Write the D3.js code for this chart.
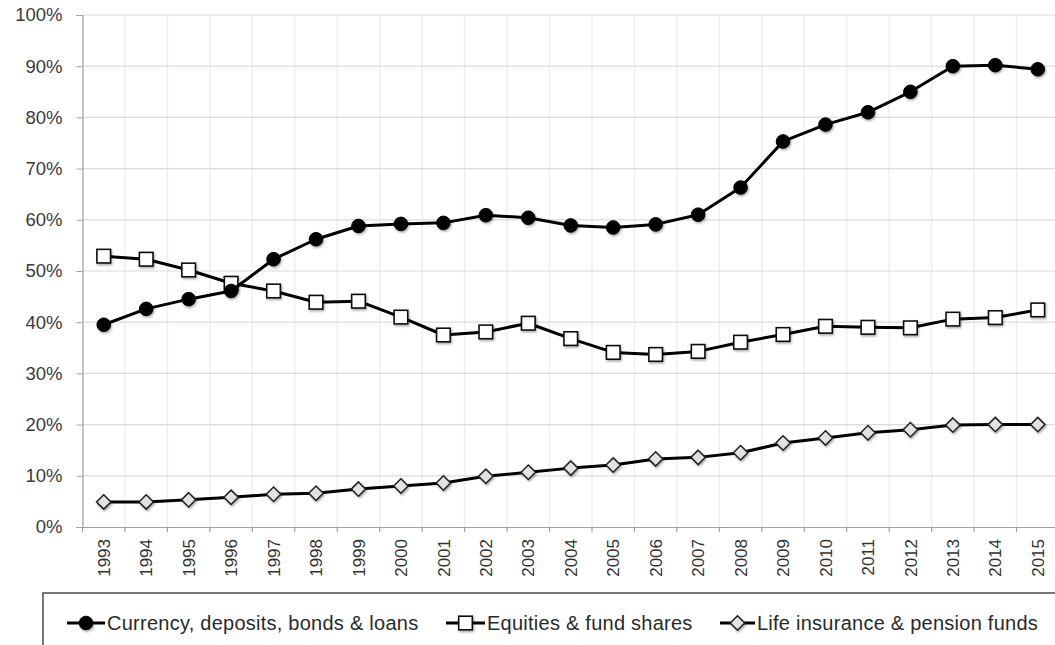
<!DOCTYPE html>
<html>
<head>
<meta charset="utf-8">
<script src="https://cdn.jsdelivr.net/npm/d3@7"></script>
<style>
  html, body { margin: 0; padding: 0; background: #fff; }
  svg { display: block; font-family: "Liberation Sans", Arial, Helvetica, sans-serif; }
</style>
</head>
<body>
<svg id="chart" width="1055" height="645"></svg>
<script>
const years = ["1993","1994","1995","1996","1997","1998","1999","2000","2001","2002","2003","2004","2005","2006","2007","2008","2009","2010","2011","2012","2013","2014","2015"];
const currency = [39.5, 42.6, 44.5, 46.1, 52.3, 56.2, 58.8, 59.2, 59.4, 60.9, 60.4, 58.9, 58.5, 59.1, 61.0, 66.3, 75.3, 78.6, 81.0, 85.0, 90.0, 90.2, 89.4];
const equities = [52.9, 52.3, 50.2, 47.6, 46.1, 43.9, 44.1, 41.0, 37.5, 38.1, 39.8, 36.8, 34.1, 33.7, 34.3, 36.1, 37.6, 39.2, 39.0, 38.9, 40.6, 40.9, 42.4];
const life = [4.9, 4.9, 5.3, 5.8, 6.4, 6.6, 7.4, 8.0, 8.6, 9.9, 10.7, 11.5, 12.1, 13.3, 13.6, 14.5, 16.4, 17.4, 18.4, 19.0, 19.9, 20.0, 20.0];
const yTicks = [0, 10, 20, 30, 40, 50, 60, 70, 80, 90, 100];
const seriesNames = ["Currency, deposits, bonds & loans", "Equities & fund shares", "Life insurance & pension funds"];

(function () {
const svg = d3.select("#chart");
const pl = 82.5, pr = 1059, pt = 15, pb = 527;

const x = d3.scaleBand().domain(years).range([pl, pr]).padding(0);
const y = d3.scaleLinear().domain([0, 100]).range([pb, pt]);
const cx = d => x(d) + x.bandwidth() / 2;

const defs = svg.append("defs");
const f = defs.append("filter").attr("id", "sh").attr("x", "-50%").attr("y", "-50%").attr("width", "200%").attr("height", "200%");
f.append("feDropShadow").attr("dx", 1).attr("dy", 1.5).attr("stdDeviation", 1.2).attr("flood-color", "#000").attr("flood-opacity", 0.35);

// vertical gridlines at category boundaries
svg.append("g").selectAll("line").data(years.slice(1)).join("line")
  .attr("x1", d => x(d)).attr("x2", d => x(d))
  .attr("y1", pt).attr("y2", pb)
  .attr("stroke", "#eeeeee").attr("stroke-width", 1.5);

// horizontal gridlines
svg.append("g").selectAll("line").data(yTicks.slice(1)).join("line")
  .attr("x1", pl).attr("x2", pr)
  .attr("y1", d => y(d)).attr("y2", d => y(d))
  .attr("stroke", "#dcdcdc").attr("stroke-width", 1.2);

// y axis
const yAxis = d3.axisLeft(y).tickValues(yTicks).tickFormat(d => d + "%").tickSize(6).tickPadding(14);
const gy = svg.append("g").attr("transform", `translate(${pl},0)`).call(yAxis);
gy.select(".domain").attr("stroke", "#a0a0a0").attr("stroke-width", 1.2);
gy.selectAll(".tick line").attr("stroke", "#a0a0a0");
gy.selectAll(".tick text").attr("fill", "#3a3a3a").attr("font-size", "18.5px").attr("font-family", "Liberation Sans, Arial, sans-serif");

// x axis
const xAxis = d3.axisBottom(x).tickSize(0).tickSizeOuter(0);
const gx = svg.append("g").attr("transform", `translate(0,${pb})`).call(xAxis);
gx.select(".domain").attr("stroke", "#a0a0a0").attr("stroke-width", 1.2);
gx.selectAll(".tick text")
  .attr("fill", "#333").attr("font-size", "17px").attr("font-family", "Liberation Sans, Arial, sans-serif")
  .attr("text-anchor", "end")
  .attr("transform", "rotate(-90)")
  .attr("x", -12).attr("y", 0).attr("dy", "0.36em");
gx.append("g").selectAll("line").data(years.slice(1)).join("line")
  .attr("x1", d => x(d)).attr("x2", d => x(d)).attr("y1", 0).attr("y2", 5)
  .attr("stroke", "#a0a0a0").attr("stroke-width", 1.2);
gx.append("line").attr("x1", pl).attr("x2", pl).attr("y1", 0).attr("y2", 5).attr("stroke", "#a0a0a0").attr("stroke-width", 1.2);

const line = d3.line().x((d, i) => cx(years[i])).y(d => y(d));

function drawMarker(g, type, px, py) {
  if (type === 0) {
    g.append("circle").attr("cx", px).attr("cy", py).attr("r", 6.8).attr("fill", "#000").attr("stroke", "#000").attr("filter", "url(#sh)");
  } else if (type === 1) {
    g.append("rect").attr("x", px - 6.8).attr("y", py - 6.8).attr("width", 13.6).attr("height", 13.6)
      .attr("fill", "#fff").attr("stroke", "#111").attr("stroke-width", 1.6).attr("filter", "url(#sh)");
  } else {
    const s = 7.2;
    g.append("path").attr("d", `M${px},${py - s}L${px + s},${py}L${px},${py + s}L${px - s},${py}Z`)
      .attr("fill", "#e2e2e2").attr("stroke", "#222").attr("stroke-width", 1.5).attr("filter", "url(#sh)");
  }
}

const allSeries = [currency, equities, life];
[2, 1, 0].forEach(k => {
  const data = allSeries[k];
  const g = svg.append("g");
  g.append("path").datum(data).attr("d", line).attr("fill", "none").attr("stroke", "#000").attr("stroke-width", 3).attr("stroke-linejoin", "round");
  data.forEach((v, i) => drawMarker(g, k, cx(years[i]), y(v)));
});

// legend
const lg = svg.append("g");
lg.append("rect").attr("x", 43).attr("y", 593).attr("width", 1100).attr("height", 100)
  .attr("fill", "#fff").attr("stroke", "#777").attr("stroke-width", 2);
const legendItems = [
  { x1: 67, x2: 105, tx: 107 },
  { x1: 446, x2: 485, tx: 487 },
  { x1: 720, x2: 755, tx: 757 }
];
const ly = 623;
legendItems.forEach((it, k) => {
  lg.append("line").attr("x1", it.x1).attr("x2", it.x2).attr("y1", ly).attr("y2", ly).attr("stroke", "#000").attr("stroke-width", 3);
  drawMarker(lg, k, (it.x1 + it.x2) / 2, ly);
  lg.append("text").attr("x", it.tx).attr("y", ly).attr("dy", "0.36em")
    .attr("font-size", "20px").attr("letter-spacing", "0.25px").attr("fill", "#2a2a2a").text(seriesNames[k]);
});
})();
</script>
</body>
</html>
